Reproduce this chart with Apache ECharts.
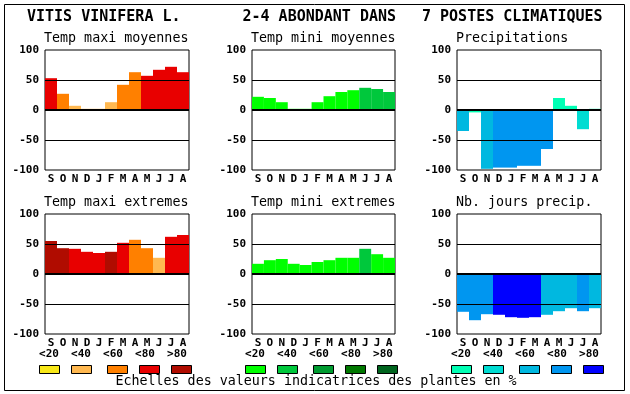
<!DOCTYPE html>
<html>
<head>
<meta charset="utf-8">
<script src="https://cdn.jsdelivr.net/npm/echarts@6/dist/echarts.min.js"></script>
<style>
html,body{margin:0;padding:0;background:#fff;}
#chart{width:630px;height:394px;}
</style>
</head>
<body>
<div id="chart"></div>
<script>
// ---- data ----
var months = ['S','O','N','D','J','F','M','A','M','J','J','A'];
var yTicks = [-100, -50, 0, 50, 100];
var legendLabels = ['<20','<40','<60','<80','>80'];

var headTitles = ['VITIS VINIFERA L.', '2-4 ABONDANT DANS', '7 POSTES CLIMATIQUES'];
var panelTitles = ['Temp maxi moyennes','Temp mini moyennes','Precipitations',
                   'Temp maxi extremes','Temp mini extremes','Nb. jours precip.'];
var footer = 'Echelles des valeurs indicatrices des plantes en %';

var tmaxMoy    = [53, 27, 7, 2, 2, 13, 42, 63, 57, 67, 72, 63];
var tmaxMoyCls = [3, 2, 1, 1, 1, 1, 2, 2, 3, 3, 3, 3];
var tminMoy    = [22, 20, 13, 2, 2, 13, 23, 30, 33, 37, 35, 30];
var tminMoyCls = [0, 0, 0, 0, 0, 0, 0, 0, 0, 1, 1, 1];
var precip     = [-35, -4, -98, -96, -96, -93, -93, -65, 20, 7, -32, 2];
var precipCls  = [2, 0, 2, 3, 3, 3, 3, 3, 0, 0, 1, 0];
var tmaxExt    = [55, 43, 42, 37, 35, 37, 52, 57, 43, 27, 62, 65];
var tmaxExtCls = [4, 4, 3, 3, 3, 4, 3, 2, 2, 1, 3, 3];
var tminExt    = [17, 23, 25, 17, 15, 20, 23, 27, 27, 42, 33, 27];
var tminExtCls = [0, 0, 0, 0, 0, 0, 0, 0, 0, 1, 0, 0];
var nbJours    = [-63, -77, -67, -68, -72, -73, -72, -68, -62, -57, -62, -57];
var nbJoursCls = [3, 3, 3, 4, 4, 4, 4, 2, 2, 2, 3, 2];

var redPal   = ['#f8e818', '#ffb850', '#ff8000', '#e80000', '#b00c00'];
var greenPal = ['#00ff00', '#00c83c', '#009b30', '#007800', '#00641e'];
var bluePal  = ['#00ffb4', '#00dcd2', '#00b8e0', '#0096f0', '#0000ff'];

// ---- layout ----
var colLeft = [45, 252, 457];
var colWidth = [144, 143, 144];
var rowTop = [50, 214];
var plotH = 120;
var MONO = '"DejaVu Sans Mono", "Liberation Mono", monospace';

var panels = [
  {vals: tmaxMoy, cls: tmaxMoyCls, pal: redPal},
  {vals: tminMoy, cls: tminMoyCls, pal: greenPal},
  {vals: precip, cls: precipCls, pal: bluePal},
  {vals: tmaxExt, cls: tmaxExtCls, pal: redPal},
  {vals: tminExt, cls: tminExtCls, pal: greenPal},
  {vals: nbJours, cls: nbJoursCls, pal: bluePal}
];

var grids = [], xAxes = [], yAxes = [], series = [], graphics = [];

panels.forEach(function (p, i) {
  var col = i % 3, row = Math.floor(i / 3);
  grids.push({
    left: colLeft[col], top: rowTop[row], width: colWidth[col], height: plotH,
    show: true, borderColor: '#000', borderWidth: 1, backgroundColor: '#fff'
  });
  xAxes.push({
    type: 'category', gridIndex: i, data: months,
    axisLine: {show: false}, axisTick: {show: false},
    axisLabel: {interval: 0, margin: 4, color: '#000', fontFamily: MONO, fontWeight: 'bold', fontSize: 11}
  });
  yAxes.push({
    type: 'value', gridIndex: i, min: yTicks[0], max: yTicks[yTicks.length - 1], interval: 50,
    axisLine: {show: false}, axisTick: {show: false}, splitLine: {show: false},
    axisLabel: {margin: 6, color: '#000', fontFamily: MONO, fontWeight: 'bold', fontSize: 11}
  });
  series.push({
    type: 'bar', xAxisIndex: i, yAxisIndex: i,
    barCategoryGap: '0%', barGap: '0%',
    data: p.vals.map(function (v, k) {
      return {value: v, itemStyle: {color: p.pal[p.cls[k]]}};
    }),
    markLine: {
      silent: true, symbol: ['none', 'none'], animation: false,
      label: {show: false},
      data: [
        {yAxis: -50, lineStyle: {color: '#000', width: 1, type: 'solid'}},
        {yAxis: 0, lineStyle: {color: '#000', width: 2, type: 'solid'}},
        {yAxis: 50, lineStyle: {color: '#000', width: 1, type: 'solid'}}
      ]
    }
  });
  // panel subtitle
  graphics.push({
    type: 'text', left: colLeft[col] - 1, top: rowTop[row] - 18,
    style: {text: panelTitles[i], fill: '#000', font: '13.33px ' + MONO}
  });
});

// outer border
graphics.push({
  type: 'rect', shape: {x: 4.5, y: 4.5, width: 620, height: 386},
  style: {fill: null, stroke: '#000', lineWidth: 1}, z: 100
});

// head titles
graphics.push({type: 'text', left: 27, top: 10,
  style: {text: headTitles[0], fill: '#000', font: 'bold 15px ' + MONO}});
graphics.push({type: 'text', right: 630 - 396, top: 10,
  style: {text: headTitles[1], fill: '#000', font: 'bold 15px ' + MONO}});
graphics.push({type: 'text', left: 422, top: 10,
  style: {text: headTitles[2], fill: '#000', font: 'bold 15px ' + MONO}});

// legends
var legBase = [39, 245, 451];
var swOff = [0, 32, 68, 100, 132];
var pals = [redPal, greenPal, bluePal];
legBase.forEach(function (bx, c) {
  legendLabels.forEach(function (lab, k) {
    graphics.push({
      type: 'text', x: bx + 10 + 32 * k, y: 354,
      style: {text: lab, fill: '#000', font: 'bold 11px ' + MONO, textAlign: 'center', textVerticalAlign: 'middle'}
    });
    graphics.push({
      type: 'rect', shape: {x: bx + swOff[k] + 0.5, y: 365.5, width: 20, height: 8},
      style: {fill: pals[c][k], stroke: '#000', lineWidth: 1}
    });
  });
});

// footer
graphics.push({
  type: 'text', x: 316, y: 382,
  style: {text: footer, fill: '#000', font: '13.33px ' + MONO, textAlign: 'center', textVerticalAlign: 'middle'}
});

var chart = echarts.init(document.getElementById('chart'), null, {renderer: 'canvas'});
chart.setOption({
  animation: false,
  backgroundColor: '#fff',
  grid: grids, xAxis: xAxes, yAxis: yAxes, series: series, graphic: graphics
});
</script>
</body>
</html>
